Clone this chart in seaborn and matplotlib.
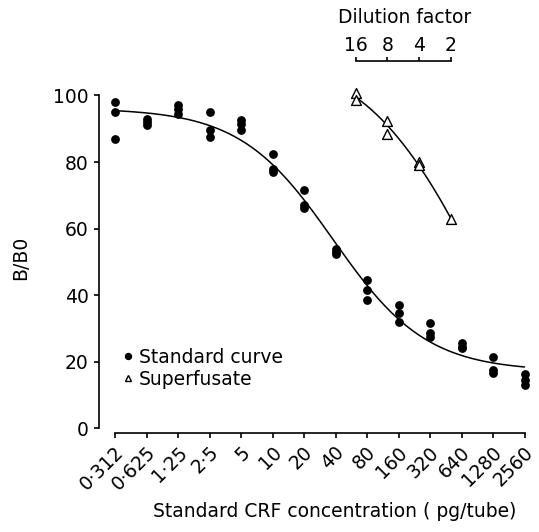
import numpy as np
import pandas as pd
import matplotlib
matplotlib.use("Agg")
import matplotlib.pyplot as plt
import seaborn as sns
from matplotlib.lines import Line2D
from matplotlib.ticker import NullLocator
from matplotlib.transforms import ScaledTranslation

sns.set_theme(style="ticks")
plt.rcParams["font.family"] = ["DejaVu Sans"]
plt.rcParams.update({"text.color": "black", "axes.labelcolor": "black",
                     "xtick.color": "black", "ytick.color": "black"})
FS = 13.5

# ---------------- data ----------------
conc = [0.3125, 0.625, 1.25, 2.5, 5, 10, 20, 40, 80, 160, 320, 640, 1280, 2560]
conc_labels = ["0·312", "0·625", "1·25", "2·5", "5", "10", "20", "40",
               "80", "160", "320", "640", "1280", "2560"]
rep1 = [98.0, 93.0, 97.0, 95.0, 92.5, 82.3, 71.5, 54.0, 44.6, 37.0, 31.5, 25.5, 21.3, 16.3]
rep2 = [95.0, 92.0, 96.0, 89.5, 91.5, 78.0, 67.0, 53.0, 41.5, 34.7, 28.7, 24.3, 17.5, 14.5]
rep3 = [87.0, 91.0, 94.5, 87.5, 89.5, 77.0, 66.3, 52.5, 38.5, 32.0, 27.3, 24.0, 16.5, 13.0]

dilution = [16, 16, 8, 8, 4, 4, 2]
superfusate = [100.8, 98.6, 92.4, 88.4, 79.9, 79.1, 62.8]
dil_ticks = [16, 8, 4, 2]

std = pd.DataFrame({"conc": conc * 3, "bb0": rep1 + rep2 + rep3})
sup = pd.DataFrame({"dil": dilution, "bb0": superfusate})

# 4-parameter logistic fit of the standard curve (in log2 concentration)
t = np.log2(std["conc"].to_numpy())
y = std["bb0"].to_numpy()
best = None
for b in np.linspace(0.2, 3.0, 113):
    for c in np.linspace(2.0, 12.0, 161):
        s = 1.0 / (1.0 + np.exp(b * (t - c)))
        A = np.column_stack([s, 1 - s])
        coef = np.linalg.lstsq(A, y, rcond=None)[0]
        r = np.sum((A @ coef - y) ** 2)
        if best is None or r < best[0]:
            best = (r, b, c, coef)
_, bb, cc, (aa, dd) = best
tt = np.linspace(t.min(), t.max(), 300)
ss = 1.0 / (1.0 + np.exp(bb * (tt - cc)))
std_fit = pd.DataFrame({"conc": 2 ** tt, "bb0": aa * ss + dd * (1 - ss)})

# smooth fit of superfusate dilution curve
ld = np.log2(sup["dil"].to_numpy())
p = np.polyfit(ld, sup["bb0"].to_numpy(), 2)
lg = np.linspace(ld.min(), ld.max(), 200)
sup_fit = pd.DataFrame({"dil": 2 ** lg, "bb0": np.polyval(p, lg)})

# ---------------- figure ----------------
fig = plt.figure(figsize=(5.39, 5.32), dpi=100)
ax = fig.add_axes([99 / 539, 0.1855, 431.8 / 539, 0.6538])
ax.set_xscale("log", base=2)

sns.scatterplot(data=std, x="conc", y="bb0", ax=ax, color="black", s=40,
                linewidth=0, legend=False, zorder=3)
sns.lineplot(data=std_fit, x="conc", y="bb0", ax=ax, color="black", lw=1.1,
             legend=False)

ax.set_xlim(0.3125 * 2 ** -0.508, 0.3125 * 2 ** 13.2)
ax.set_ylim(-1.5, 103)
ax.set_yticks([0, 20, 40, 60, 80, 100])
ax.set_xticks(conc)
ax.xaxis.set_minor_locator(NullLocator())
ax.set_xticklabels(conc_labels, rotation=45, ha="right", va="center",
                   rotation_mode="anchor")
ax.tick_params(axis="both", direction="out", length=3.6, width=1.2,
               labelsize=FS, color="black", labelcolor="black")
ax.tick_params(axis="y", pad=4.0)
ax.tick_params(axis="x", pad=8)
for lbl in ax.get_xticklabels():
    lbl.set_transform(lbl.get_transform() +
                      ScaledTranslation(6 / 100, 0, fig.dpi_scale_trans))

sns.despine(ax=ax)
for sp in ("left", "bottom"):
    ax.spines[sp].set_linewidth(1.2)
    ax.spines[sp].set_color("black")
ax.spines["left"].set_bounds(0, 100)
ax.spines["bottom"].set_bounds(conc[0], conc[-1])

ax.set_xlabel("Standard CRF concentration ( pg/tube)", fontsize=FS, va="center")
ax.xaxis.set_label_coords(0.545, -0.226)
ax.set_ylabel("B/B0", fontsize=FS, va="center")
ax.yaxis.set_label_coords(-0.182, 0.504)

# dilution-factor axis
ax2 = ax.twiny()
ax2.set_xscale("log", base=2)
sns.scatterplot(data=sup, x="dil", y="bb0", ax=ax2, marker="^", s=50,
                color="white", edgecolor="black", linewidth=1.0,
                legend=False, zorder=3, clip_on=False)
sns.lineplot(data=sup_fit, x="dil", y="bb0", ax=ax2, color="black", lw=1.1,
             legend=False)
ax2.set_xlim(2 ** 12.106, 2 ** -1.532)
ax2.set_ylim(-1.5, 103)
for sp in ("left", "right", "bottom"):
    ax2.spines[sp].set_visible(False)
ax2.spines["top"].set_position(("outward", 17.3))
ax2.spines["top"].set_bounds(2, 16)
ax2.spines["top"].set_linewidth(1.2)
ax2.spines["top"].set_color("black")
ax2.xaxis.set_ticks_position("top")
ax2.set_xticks(dil_ticks)
ax2.xaxis.set_minor_locator(NullLocator())
ax2.set_xticklabels([str(d) for d in dil_ticks])
ax2.tick_params(axis="x", direction="out", length=3.1, width=1.2, pad=1.5,
                labelsize=FS, color="black", labelcolor="black")
ax2.set_xlabel("Dilution factor", fontsize=FS, va="center")
ax2.xaxis.set_label_position("top")
ax2.xaxis.set_label_coords(0.7087, 1.179)
ax2.set_ylabel("")
ax2.tick_params(axis="y", left=False, right=False, labelleft=False, labelright=False)

# legend
handles = [
    Line2D([], [], ls="none", marker="o", ms=4.3, mfc="black", mec="black"),
    Line2D([], [], ls="none", marker="^", ms=5.0, mfc="white", mec="black", mew=1.0),
]
leg = ax2.legend(handles, ["Standard curve", "Superfusate"], loc="upper left",
                 bbox_to_anchor=(0.0549, 0.246), bbox_transform=ax.transAxes,
                 frameon=False, handlelength=0.6, handletextpad=0.28, borderpad=0,
                 borderaxespad=0, labelspacing=0.17, fontsize=FS)
for txt in leg.get_texts():
    txt.set_color("black")

fig.savefig("out.png", dpi=100, facecolor="white")
